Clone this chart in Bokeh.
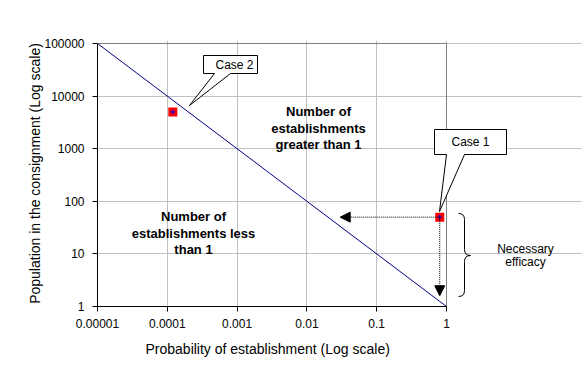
import numpy as np
from bokeh.plotting import figure
from bokeh.models import (Range1d, FixedTicker, CustomJSTickFormatter, Arrow,
                          NormalHead, Title)
from bokeh.core.properties import value
from bokeh.embed import file_html
from bokeh.resources import INLINE

# ---------------- data ----------------
line_prob = [1e-5, 1.0]
line_pop = [1e5, 1.0]
case_names = ["Case 1", "Case 2"]
case_prob = [0.8, 0.00012]
case_pop = [50, 5000]
arrow_prob_end = 0.03      # horizontal dotted arrow (towards lower probability)
arrow_pop_end = 1.6        # vertical dotted arrow (necessary efficacy)
x_ticks = [1e-5, 1e-4, 1e-3, 1e-2, 1e-1, 1.0]
x_tick_labels = ["0.00001", "0.0001", "0.001", "0.01", "0.1", "1"]
y_ticks = [1, 10, 100, 1000, 10000, 100000]
y_tick_labels = ["1", "10", "100", "1000", "10000", "100000"]

# ---------------- layout (pixels) ----------------
W, H = 582, 371
LEFT, BOTTOM, TOP = 97, 65, 40
X_DEC, Y_DEC = 69.8, 52.6
FONT = value("Liberation Sans")


def dx(px):
    return 10 ** (-5 + (px - LEFT) / X_DEC)


def dy(py):
    return 10 ** ((H - BOTTOM - py) / Y_DEC)


p = figure(width=W, height=H, x_axis_type="log", y_axis_type="log",
           x_range=Range1d(x_ticks[0], dx(W)), y_range=Range1d(y_ticks[0], dy(TOP)),
           output_backend="svg", toolbar_location=None,
           min_border_left=LEFT, min_border_right=0, min_border_top=TOP,
           min_border_bottom=BOTTOM)
p.outline_line_color = None
p.background_fill_color = "white"
p.border_fill_color = "white"

fmt_code = """
for (let i = 0; i < ticks_.length; i++) {
  if (Math.abs(Math.log10(ticks_[i]) - Math.log10(tick)) < 1e-6) return labels[i];
}
return "";
"""
p.xaxis.ticker = FixedTicker(ticks=x_ticks, minor_ticks=[])
p.yaxis.ticker = FixedTicker(ticks=y_ticks, minor_ticks=[])
p.xaxis.formatter = CustomJSTickFormatter(args=dict(ticks_=x_ticks, labels=x_tick_labels), code=fmt_code)
p.yaxis.formatter = CustomJSTickFormatter(args=dict(ticks_=y_ticks, labels=y_tick_labels), code=fmt_code)
p.xaxis.bounds = (x_ticks[0], x_ticks[-1])
p.yaxis.bounds = (y_ticks[0], y_ticks[-1])
for ax in (p.xaxis, p.yaxis):
    ax.axis_line_color = "black"
    ax.major_tick_line_color = "black"
    ax.major_tick_out = 5
    ax.major_tick_in = 0
    ax.minor_tick_line_color = None
    ax.major_label_text_font = "Liberation Sans"
    ax.major_label_text_font_size = "12px"
    ax.major_label_text_color = "black"
    ax.axis_label_text_font = "Liberation Sans"
    ax.axis_label_text_font_size = "14px"
    ax.axis_label_text_font_style = "normal"
    ax.axis_label_text_color = "black"
p.xaxis.major_label_standoff = 7
p.yaxis.major_label_standoff = 8
p.yaxis.axis_label = "Population in the consignment (Log scale)"
p.yaxis.axis_label_standoff = -2

p.xgrid.ticker = FixedTicker(ticks=x_ticks)
p.ygrid.ticker = FixedTicker(ticks=y_ticks)
p.xgrid.bounds = (y_ticks[0], y_ticks[-1])
p.ygrid.bounds = (x_ticks[0], x_ticks[-1])
p.xgrid.grid_line_color = "#c0c0c0"
p.ygrid.grid_line_color = "#c0c0c0"

# plot-area border (top and right)
p.line([x_ticks[0], x_ticks[-1]], [y_ticks[-1], y_ticks[-1]], line_color="#808080", line_width=1)
p.line([x_ticks[-1], x_ticks[-1]], [y_ticks[0], y_ticks[-1]], line_color="#808080", line_width=1)

# diagonal line
p.line(line_prob, line_pop, line_color="#000080", line_width=1)

# dotted arrows from Case 1
p.add_layout(Arrow(end=NormalHead(size=10, fill_color="black", line_color="black"),
                   x_start=case_prob[0], y_start=case_pop[0],
                   x_end=arrow_prob_end, y_end=case_pop[0],
                   line_color="black", line_dash="1 1", line_width=1))
p.add_layout(Arrow(end=NormalHead(size=10, fill_color="black", line_color="black"),
                   x_start=case_prob[0], y_start=case_pop[0],
                   x_end=case_prob[0], y_end=arrow_pop_end,
                   line_color="black", line_dash="1 1", line_width=1))

# case points
p.scatter(case_prob, case_pop, marker="square", size=9, fill_color="#ff0000", line_color=None)
p.scatter(case_prob, case_pop, marker="cross", size=5, line_color="#0000ff", line_width=1)

# callouts
callout2 = [(203, 55), (257, 55), (257, 73), (230, 73), (189, 105), (214, 73), (203, 73)]
callout1 = [(434, 129), (506, 129), (506, 154), (464, 154), (439, 211), (446, 154), (434, 154)]
for pts in (callout2, callout1):
    p.patch([dx(a) for a, b in pts], [dy(b) for a, b in pts],
            fill_color="white", line_color="black", line_width=1)
p.text([dx(234), dx(470)], [dy(64), dy(141)], text=[case_names[1], case_names[0]],
       text_font=FONT, text_font_size="12px", text_align="center",
       text_baseline="middle", text_color="black")

# region texts
p.text([dx(318)] * 3, [dy(111), dy(127.5), dy(144)],
       text=["Number of", "establishments", "greater than 1"],
       text_font=FONT, text_font_size="13px", text_font_style="bold",
       text_align="center", text_baseline="middle", text_color="black")
p.text([dx(193)] * 3, [dy(216), dy(232.5), dy(249)],
       text=["Number of", "establishments less", "than 1"],
       text_font=FONT, text_font_size="13px", text_font_style="bold",
       text_align="center", text_baseline="middle", text_color="black")

# brace
bx0, bx1, bx2 = 458, 464, 470
by0, byt, by1 = 213, 255, 296
curves = [((bx0, by0), (bx1, by0 + 6), (bx1, by0)),
          ((bx1, byt - 6), (bx2, byt), (bx1, byt)),
          ((bx2, byt), (bx1, byt + 6), (bx1, byt)),
          ((bx1, by1 - 6), (bx0, by1), (bx1, by1))]
p.quadratic(x0=[dx(c[0][0]) for c in curves], y0=[dy(c[0][1]) for c in curves],
            x1=[dx(c[1][0]) for c in curves], y1=[dy(c[1][1]) for c in curves],
            cx=[dx(c[2][0]) for c in curves], cy=[dy(c[2][1]) for c in curves],
            line_color="black", line_width=1)
p.segment(x0=[dx(bx1), dx(bx1)], y0=[dy(by0 + 6), dy(byt + 6)],
          x1=[dx(bx1), dx(bx1)], y1=[dy(byt - 6), dy(by1 - 6)],
          line_color="black", line_width=1)
p.text([dx(525)] * 2, [dy(248), dy(261)], text=["Necessary", "efficacy"],
       text_font=FONT, text_font_size="12px", text_align="center",
       text_baseline="middle", text_color="black")

# x-axis title (centred under the log-scale plot area, not the whole frame)
p.add_layout(Title(text="Probability of establishment (Log scale)", align="left",
                   offset=48, standoff=16, text_font="Liberation Sans", text_font_size="14px",
                   text_font_style="normal", text_color="black"), "below")

open("out.html", "w").write(file_html(p, INLINE))
